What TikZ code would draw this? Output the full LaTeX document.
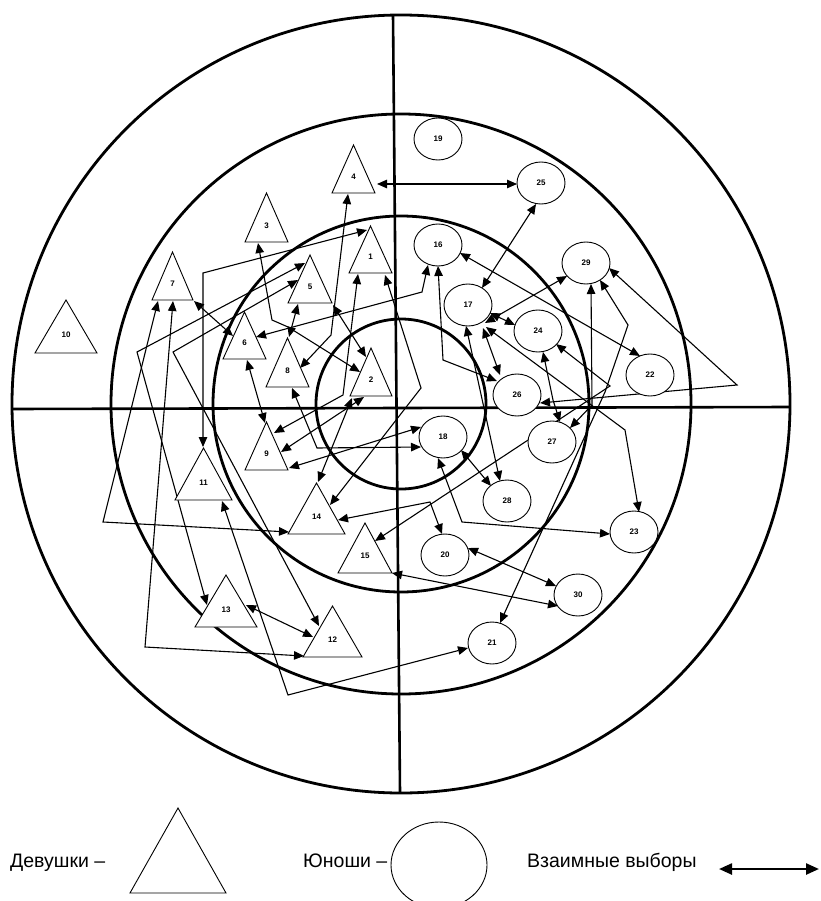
\documentclass[tikz,border=0pt]{standalone}
\usepackage{fontspec}
\setmainfont{Liberation Sans}
\usetikzlibrary{arrows.meta,shapes.geometric}
\newcommand\lblfont{\fontsize{8}{9}\selectfont\bfseries}
\newcommand\girl[6]{%
  \draw[tri] (#2,#4) -- ({(#2+#3)/2},#5) -- (#3,#4) -- cycle;
  \node[lbl] (#1) at ({(#2+#3)/2},{#4-0.34*(#4-#5)}) {#6};}
\begin{document}
\begin{tikzpicture}[x=1pt,y=-1pt,
  ring/.style={line width=2.8pt},
  axisline/.style={line width=2.6pt},
  tri/.style={draw, fill=white, line width=0.9pt, line join=miter},
  boy/.style={draw, fill=white, ellipse, line width=0.9pt, minimum width=48pt, minimum height=42pt, inner sep=0pt, font=\lblfont},
  lbl/.style={inner sep=0pt, font=\lblfont},
  conn/.style={line width=1.1pt, {Triangle[length=10pt,width=8.5pt]}-{Triangle[length=10pt,width=8.5pt]}},
  legtext/.style={inner sep=0pt, anchor=base west, font=\fontsize{19.5}{22}\selectfont}]
\useasboundingbox (0,0) rectangle (820,901);
\clip (0,0) rectangle (820,901);
% rings and axes
\draw[ring] (401,404) circle[radius=389pt];
\draw[ring] (401,404) circle[radius=290pt];
\draw[ring] (401,404) circle[radius=188pt];
\draw[ring] (401,404) circle[radius=85pt];
\draw[axisline] (393,15) -- (400,793);
\draw[axisline] (13,409) -- (790,407);
% connectors (mutual choices)
\draw[conn] (377,184) -- (517,184);
\draw[conn] (348,194) -- (331,335) -- (300,368);
\draw[conn] (258,243) -- (272,320) -- (288,327) -- (360,372);
\draw[conn] (333,305) -- (366,357);
\draw[conn] (298,304) -- (289,337);
\draw[conn] (428,265) -- (422,292) -- (256,337);
\draw[conn] (438,266) -- (443,360) -- (497,381);
\draw[conn] (460,253) -- (640,356);
\draw[conn] (536,204) -- (482,288);
\draw[conn] (490,313) -- (515,325);
\draw[conn] (567,276) -- (485,323);
\draw[conn] (483,328) -- (500,375);
\draw[conn] (486,327) -- (625,430) -- (639,512);
\draw[conn] (466,326) -- (500,481);
\draw[conn] (540,403) -- (737,385) -- (609,268);
\draw[conn] (600,280) -- (628,325) -- (605,392) -- (500,623);
\draw[conn] (591,284) -- (592,405) -- (570,428);
\draw[conn] (543,352) -- (553,400) -- (560,422);
\draw[conn] (556,344) -- (610,386) -- (375,541);
\draw[conn] (461,450) -- (491,486);
\draw[conn] (438,458) -- (462,522) -- (610,534);
\draw[conn] (338,520) -- (430,502) -- (442,534);
\draw[conn] (468,548) -- (556,586);
\draw[conn] (392,573) -- (558,606);
\draw[conn] (222,501) -- (288,695) -- (468,648);
\draw[conn] (246,605) -- (313,637);
\draw[conn] (173,301) -- (145,647) -- (304,656);
\draw[conn] (158,301) -- (103,522) -- (289,532);
\draw[conn] (305,263) -- (137,352) -- (207,605);
\draw[conn] (298,280) -- (173,352) -- (319,626);
\draw[conn] (367,230) -- (203,273) -- (203,447);
\draw[conn] (194,301) -- (233,336);
\draw[conn] (247,360) -- (265,423);
\draw[conn] (292,388) -- (317,448) -- (421,447);
\draw[conn] (289,468) -- (421,427);
\draw[conn] (358,274) -- (343,395) -- (274,433);
\draw[conn] (364,397) -- (281,452);
\draw[conn] (352,398) -- (318,482);
\draw[conn] (385,275) -- (421,388) -- (330,505);
% girls (triangles)
\girl{t1}{349}{392}{273}{226}{1}
\girl{t2}{350}{392}{396}{348}{2}
\girl{t3}{245}{288}{242}{193}{3}
\girl{t4}{332}{375}{193}{145}{4}
\girl{t5}{288}{332}{303}{255}{5}
\girl{t6}{223}{266}{359}{312}{6}
\girl{t7}{152}{193}{300}{252}{7}
\girl{t8}{266}{309}{387}{338}{8}
\girl{t9}{245}{288}{470}{422}{9}
\girl{t10}{35}{97}{353}{300}{10}
\girl{t11}{175}{232}{500}{448}{11}
\girl{t12}{303}{362}{657}{606}{12}
\girl{t13}{195}{257}{627}{575}{13}
\girl{t14}{288}{345}{534}{483}{14}
\girl{t15}{338}{392}{573}{523}{15}
% boys (ellipses)
\node[boy] (b16) at (438,245) {16};
\node[boy] (b17) at (468,305) {17};
\node[boy] (b18) at (443,437) {18};
\node[boy] (b19) at (438,139) {19};
\node[boy] (b20) at (445,555) {20};
\node[boy] (b21) at (492,643) {21};
\node[boy] (b22) at (650,375) {22};
\node[boy] (b23) at (634,532) {23};
\node[boy] (b24) at (538,331) {24};
\node[boy] (b25) at (541,183) {25};
\node[boy] (b26) at (517,395) {26};
\node[boy] (b27) at (552,442) {27};
\node[boy] (b28) at (507,501) {28};
\node[boy] (b29) at (586,263) {29};
\node[boy] (b30) at (578,595) {30};
% legend
\node[legtext] (lgirls) at (10,867) {Девушки –};
\draw[tri] (130,893) -- (178,808) -- (226,893) -- cycle;
\node[legtext] (lboys) at (303,867) {Юноши –};
\node[draw, ellipse, line width=0.9pt, minimum width=96pt, minimum height=86pt, inner sep=0pt] (lell) at (439,865) {};
\node[legtext] (lmut) at (527,867) {Взаимные выборы};
\coordinate (la) at (719,869);
\coordinate (lb) at (819,869);
\draw[line width=2.4pt, {Triangle[length=13pt,width=11pt]}-{Triangle[length=13pt,width=11pt]}] (la) -- (lb);
\end{tikzpicture}
\end{document}
